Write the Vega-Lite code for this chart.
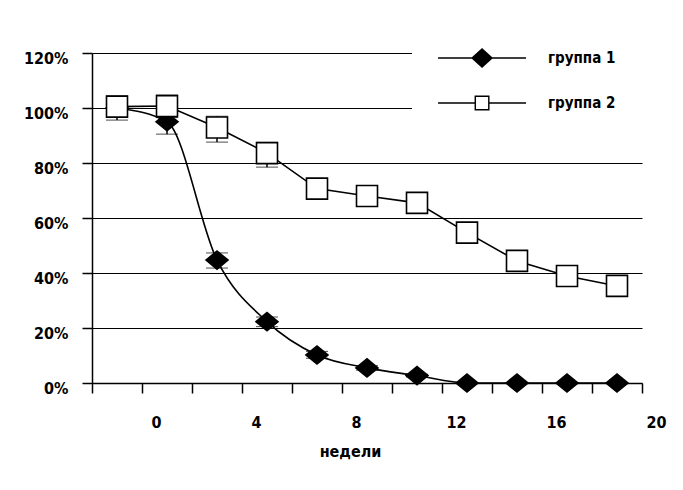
{
  "$schema": "https://vega.github.io/schema/vega-lite/v6.json",
  "width": 550,
  "height": 330,
  "autosize": {"type": "none"},
  "padding": {"left": 92, "top": 53, "right": 41, "bottom": 107},
  "background": "white",
  "config": {
    "view": {"stroke": null},
    "font": "DejaVu Sans Condensed",
    "axis": {
      "domainColor": "black", "domainWidth": 1.5,
      "tickColor": "black", "tickWidth": 1.5, "tickSize": 10,
      "labelColor": "black", "labelFont": "DejaVu Sans Condensed", "labelFontWeight": "bold", "labelFontSize": 16,
      "titleColor": "black", "titleFont": "DejaVu Sans Condensed", "titleFontWeight": "bold", "titleFontSize": 16
    }
  },
  "datasets": {
    "d": [
      {"week": 0, "group": "группа 1", "value": 100, "lo": 97, "hi": 103},
      {"week": 2, "group": "группа 1", "value": 95, "lo": 90.5, "hi": 99},
      {"week": 4, "group": "группа 1", "value": 44.7, "lo": 41.8, "hi": 47.3},
      {"week": 6, "group": "группа 1", "value": 22.3, "lo": 20.5, "hi": 24},
      {"week": 8, "group": "группа 1", "value": 10.2, "lo": 9, "hi": 11.5},
      {"week": 10, "group": "группа 1", "value": 5.5, "lo": 4.7, "hi": 6.3},
      {"week": 12, "group": "группа 1", "value": 2.7, "lo": 2.2, "hi": 3.2},
      {"week": 14, "group": "группа 1", "value": 0, "lo": 0, "hi": 0},
      {"week": 16, "group": "группа 1", "value": 0, "lo": 0, "hi": 0},
      {"week": 18, "group": "группа 1", "value": 0, "lo": 0, "hi": 0},
      {"week": 20, "group": "группа 1", "value": 0, "lo": 0, "hi": 0},
      {"week": 0, "group": "группа 2", "value": 100.5, "lo": 95.6, "hi": 104.4},
      {"week": 2, "group": "группа 2", "value": 100.7, "lo": 96.5, "hi": 104.7},
      {"week": 4, "group": "группа 2", "value": 92.9, "lo": 87.6, "hi": 97},
      {"week": 6, "group": "группа 2", "value": 83.6, "lo": 78.5, "hi": 87.5},
      {"week": 8, "group": "группа 2", "value": 70.7, "lo": 68.5, "hi": 73},
      {"week": 10, "group": "группа 2", "value": 68, "lo": 65.5, "hi": 70.5},
      {"week": 12, "group": "группа 2", "value": 65.5, "lo": 63, "hi": 68},
      {"week": 14, "group": "группа 2", "value": 54.7, "lo": 52, "hi": 57.5},
      {"week": 16, "group": "группа 2", "value": 44.4, "lo": 42, "hi": 47},
      {"week": 18, "group": "группа 2", "value": 38.9, "lo": 36.5, "hi": 41},
      {"week": 20, "group": "группа 2", "value": 35.3, "lo": 32.8, "hi": 36.8}
    ]
  },
  "data": {"name": "d"},
  "encoding": {
    "x": {
      "field": "week", "type": "quantitative",
      "scale": {"domain": [-1, 21], "nice": false, "zero": false},
      "axis": {
        "title": "недели",
        "values": [-1, 1, 3, 5, 7, 9, 11, 13, 15, 17, 19, 21],
        "labelExpr": "(datum.value - 1) % 4 == 0 ? format(datum.value - 1, 'd') : ''",
        "labelOffset": 14, "labelPadding": 21, "labelFlush": false, "labelOverlap": false, "labelBound": false,
        "grid": false,
        "titleX": 258, "titleY": 68, "titleAlign": "center", "titleBaseline": "middle"
      }
    },
    "y": {
      "field": "value", "type": "quantitative",
      "scale": {"domain": [0, 120], "nice": false, "zero": true},
      "axis": {
        "title": null,
        "values": [0, 20, 40, 60, 80, 100, 120],
        "labelExpr": "datum.value + '%'",
        "labelPadding": 14, "labelOffset": 5,
        "grid": true, "gridColor": "black", "gridWidth": 1.2, "gridOpacity": 1
      }
    }
  },
  "layer": [
    {
      "transform": [{"filter": "datum.group === 'группа 1'"}],
      "mark": {"type": "line", "interpolate": "monotone", "color": "black", "strokeWidth": 1.6}
    },
    {
      "transform": [{"filter": "datum.group === 'группа 2'"}],
      "mark": {"type": "line", "color": "black", "strokeWidth": 1.6}
    },
    {
      "mark": {"type": "errorbar", "ticks": {"size": 22, "color": "black", "strokeWidth": 1.5}, "rule": {"color": "black", "strokeWidth": 1.5}},
      "encoding": {
        "y": {"field": "lo", "type": "quantitative", "title": null},
        "y2": {"field": "hi"}
      }
    },
    {
      "transform": [{"filter": "datum.group === 'группа 1'"}],
      "mark": {"type": "point", "shape": "M-1,0L0,-0.82L1,0L0,0.82Z", "filled": true, "fill": "black", "stroke": "black", "strokeWidth": 1.6, "opacity": 1, "size": 484}
    },
    {
      "transform": [{"filter": "datum.group === 'группа 2'"}],
      "mark": {"type": "point", "shape": "square", "filled": true, "fill": "white", "stroke": "black", "strokeWidth": 1.6, "opacity": 1, "size": 441}
    },
    {
      "data": {"values": [{"group": "группа 1", "week": null, "value": null}, {"group": "группа 2", "week": null, "value": null}]},
      "mark": {"type": "point", "filled": true, "fill": "black", "color": "black", "opacity": 1, "size": 484},
      "encoding": {
        "shape": {
          "field": "group", "type": "nominal",
          "scale": {
            "domain": ["группа 1", "группа 2"],
            "range": [
              "M-1.45,-0.068L6.55,-0.068L6.55,0.068L-1.45,0.068ZM2.55,-0.9L3.55,0L2.55,0.9L1.55,0Z",
              "M-1.45,-0.068L1.87,-0.068L1.87,0.068L-1.45,0.068ZM3.23,-0.068L6.55,-0.068L6.55,0.068L3.23,0.068ZM1.87,-0.68L3.23,-0.68L3.23,0.68L1.87,0.68ZM2,-0.55L2,0.55L3.1,0.55L3.1,-0.55Z"
            ]
          },
          "legend": {
            "title": null, "orient": "none", "legendX": 320, "legendY": -37,
            "padding": 30, "fillColor": "white", "strokeColor": null,
            "rowPadding": 20, "labelOffset": 82,
            "labelFont": "DejaVu Sans Condensed", "labelFontWeight": "bold", "labelFontSize": 15, "labelColor": "black",
            "symbolSize": 484, "symbolFillColor": "black", "symbolOpacity": 1
          }
        }
      }
    }
  ]
}
